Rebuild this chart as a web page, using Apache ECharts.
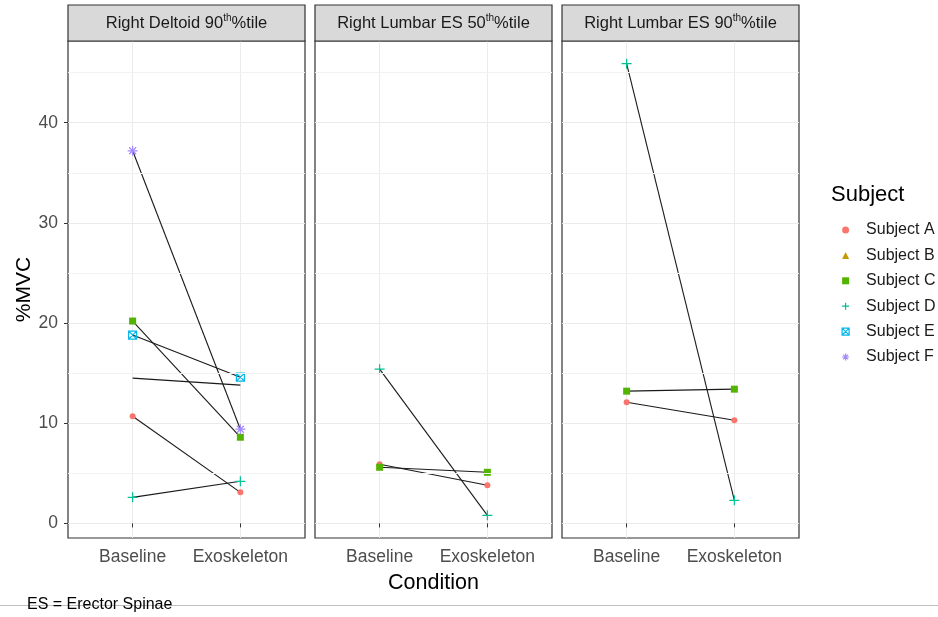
<!DOCTYPE html>
<html lang="en">
  <head>
    <meta charset="UTF-8" />
    <title>%MVC by Condition</title>
    <style>
      html, body { margin: 0; padding: 0; background: #fff; }
      #chart { width: 938px; height: 617px; }
    </style>
  </head>
  <body>
    <div id="chart"></div>
    <script src="https://cdn.jsdelivr.net/npm/echarts@6/dist/echarts.min.js"></script>
    <script>
      // data, one pair per facet: [Baseline, Exoskeleton]
      const conditions = ['Baseline', 'Exoskeleton']
      const facets = [
        ['Right Deltoid 90', 'th', '%tile'],
        ['Right Lumbar ES 50', 'th', '%tile'],
        ['Right Lumbar ES 90', 'th', '%tile']
      ]
      const subjects = ['Subject A', 'Subject B', 'Subject C', 'Subject D', 'Subject E', 'Subject F']
      const subjectA = [[10.7, 3.1], [5.9, 3.8], [12.1, 10.3]]
      const subjectB = [[14.5, 13.8], null, null]
      const subjectC = [[20.2, 8.6], [5.6, 5.1], [13.2, 13.4]]
      const subjectD = [[2.6, 4.2], [15.4, 0.8], [45.9, 2.3]]
      const subjectE = [[18.8, 14.6], null, null]
      const subjectF = [[37.2, 9.4], null, null]
      const values = [subjectA, subjectB, subjectC, subjectD, subjectE, subjectF]
      const yTicks = [0, 10, 20, 30, 40]
      const yMinor = [5, 15, 25, 35, 45]

      // looks
      const colors = ['#F8766D', '#C49A00', '#53B400', '#00C094', '#00B6EB', '#A58AFF']
      const PLUS = 'path://M5,0L5,10M0,5L10,5'
      const STAR = 'path://M5,0L5,10M0,5L10,5M1.5,1.5L8.5,8.5M8.5,1.5L1.5,8.5'
      const BOXX = 'path://M0,0L10,0L10,10L0,10ZM0,0L10,10M10,0L0,10'
      const symbols = ['circle', 'triangle', 'rect', PLUS, BOXX, STAR]
      const sizes = [6, 7, 7, 10, 8, 10]
      const stroked = [false, false, false, true, true, true]
      const FONT = 'Liberation Sans, Arial, sans-serif'

      const panelLeft = [68, 315, 562]
      const panelWidth = 237
      const panelTop = 41
      const panelHeight = 497

      let chart = echarts.init(document.getElementById('chart'), null, { renderer: 'canvas' })

      let grids = [], xAxes = [], yAxes = [], series = [], graphics = []
      facets.forEach((f, p) => {
        grids.push({
          left: panelLeft[p], top: panelTop, width: panelWidth, height: panelHeight,
          show: true, borderColor: '#333', borderWidth: 1.2, backgroundColor: '#fff'
        })
        xAxes.push({
          type: 'value', gridIndex: p, min: 0.4, max: 2.6,
          axisLine: { show: false },
          axisTick: { show: true, customValues: [1, 2], length: 4, lineStyle: { color: '#333' } },
          axisLabel: {
            customValues: [1, 2], formatter: v => conditions[v - 1] || '',
            color: '#4D4D4D', fontSize: 17.5, fontFamily: FONT, margin: 10
          },
          splitLine: { show: true, lineStyle: { color: '#EBEBEB', width: 1 } },
          name: p === 1 ? 'Condition' : '', nameLocation: 'middle', nameGap: 34,
          nameTextStyle: { color: '#000', fontSize: 21.5, fontFamily: FONT }
        })
        yAxes.push({
          type: 'value', gridIndex: p, min: -1.46, max: 48.16,
          axisLine: { show: false },
          axisTick: { show: p === 0, customValues: yTicks, length: 4, lineStyle: { color: '#333' } },
          axisLabel: {
            show: p === 0, customValues: yTicks, color: '#4D4D4D', fontSize: 17.5,
            fontFamily: FONT, margin: 10
          },
          splitLine: { show: true, lineStyle: { color: '#EBEBEB', width: 1 } },
          name: p === 0 ? '%MVC' : '', nameLocation: 'middle', nameGap: 33,
          nameTextStyle: { color: '#000', fontSize: 21, fontFamily: FONT }
        })
        // minor grid lines
        series.push({
          type: 'line', name: '', xAxisIndex: p, yAxisIndex: p, data: [], silent: true, z: 1,
          markLine: {
            silent: true, symbol: 'none', animation: false, label: { show: false },
            lineStyle: { color: '#F2F2F2', width: 1, type: 'solid' },
            data: yMinor.map(v => ({ yAxis: v }))
          }
        })
        // strip
        graphics.push({
          type: 'rect', shape: { x: panelLeft[p], y: 5, width: panelWidth, height: 36 },
          style: { fill: '#D9D9D9', stroke: '#333', lineWidth: 1.2 }, z: 10
        })
        graphics.push({
          type: 'text', x: panelLeft[p] + panelWidth / 2, y: 23.5, z: 11,
          style: {
            text: '{n|' + f[0] + '}{s|' + f[1] + '}{n|' + f[2] + '}',
            align: 'center', verticalAlign: 'middle',
            rich: {
              n: { fontSize: 16.5, fontFamily: FONT, fill: '#1A1A1A', lineHeight: 20 },
              s: { fontSize: 10, fontFamily: FONT, fill: '#1A1A1A', verticalAlign: 'top', lineHeight: 20 }
            }
          }
        })
      })

      subjects.forEach((name, s) => {
        values[s].forEach((pair, p) => {
          if (!pair) return
          series.push({
            type: 'line', name, xAxisIndex: p, yAxisIndex: p,
            data: pair.map((v, i) => [i + 1, v]),
            symbol: symbols[s], symbolSize: sizes[s], showSymbol: s !== 1,
            itemStyle: stroked[s]
              ? { color: 'rgba(0,0,0,0)', borderColor: colors[s], borderWidth: 1.2 }
              : { color: colors[s], borderWidth: 0 },
            lineStyle: { color: '#1A1A1A', width: 1.1 },
            emphasis: { disabled: true },
            animation: false, z: 3
          })
        })
      })

      graphics.push({
        type: 'text', x: 831, y: 195,
        style: { text: 'Subject', fontSize: 22, fontFamily: FONT, fill: '#000', align: 'left', verticalAlign: 'middle' }
      })
      graphics.push({
        type: 'line', shape: { x1: 0, y1: 605.5, x2: 938, y2: 605.5 },
        style: { stroke: '#BFBFBF', lineWidth: 1 }
      })
      graphics.push({
        type: 'text', x: 27, y: 605, z: 5,
        style: { text: 'ES = Erector Spinae', fontSize: 16, fontFamily: FONT, fill: '#000', verticalAlign: 'middle' }
      })

      let option = {
        backgroundColor: '#fff',
        animation: false,
        grid: grids,
        xAxis: xAxes,
        yAxis: yAxes,
        legend: {
          orient: 'vertical', left: 836.5, top: 217, itemWidth: 7, itemHeight: 7, itemGap: 9.4,
          selectedMode: false,
          textStyle: { fontSize: 16, fontFamily: FONT, color: '#1A1A1A', padding: [0, 0, 0, 12] },
          data: subjects.map((n, i) => ({
            name: n, icon: symbols[i],
            itemStyle: stroked[i]
              ? { color: 'rgba(0,0,0,0)', borderColor: colors[i], borderWidth: 1.2 }
              : { color: colors[i], borderWidth: 0 }
          }))
        },
        graphic: graphics,
        series: series
      }
      chart.setOption(option)
    </script>
  </body>
</html>
